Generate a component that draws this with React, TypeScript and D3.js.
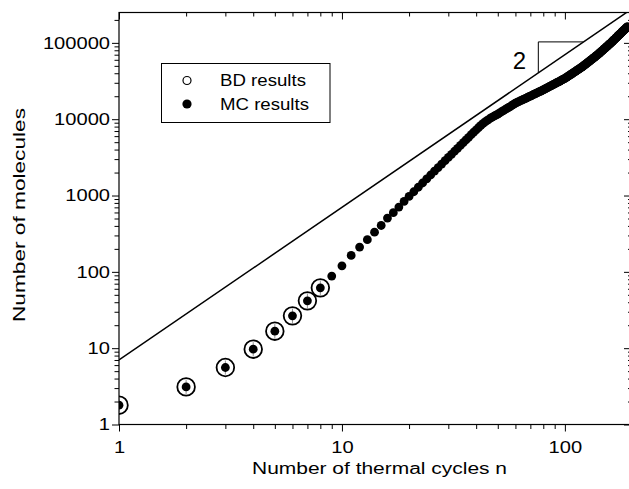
import React, { useEffect, useRef } from 'react';
import * as d3 from 'd3';

// MC results, one value per thermal cycle n = 1, 2, 3, ...
const mcValues = [
  1.79, 3.11, 5.58, 9.7, 16.7, 26.5, 41.7, 61.7, 88, 120,
  164, 211, 264, 331, 405, 506, 596, 705, 837, 973,
  1121, 1283, 1459, 1651, 1858, 2082, 2323, 2582, 2858, 3153,
  3468, 3802, 4158, 4533, 4931, 5351, 5793, 6259, 6749, 7262,
  7780, 8300, 8810, 9290, 9730, 10140, 10540, 10930, 11300, 11670,
  12090, 12520, 12960, 13400, 13850, 14310, 14770, 15240, 15720, 16200,
  16580, 16960, 17350, 17730, 18120, 18510, 18910, 19300, 19700, 20100,
  20510, 20910, 21320, 21730, 22140, 22550, 22970, 23390, 23810, 24230,
  24700, 25180, 25650, 26130, 26620, 27100, 27590, 28090, 28580, 29080,
  29590, 30090, 30600, 31110, 31630, 32140, 32660, 33190, 33710, 34240,
  34910, 35590, 36270, 36960, 37660, 38360, 39070, 39780, 40510, 41230,
  41970, 42710, 43460, 44210, 44970, 45730, 46500, 47280, 48070, 48860,
  49800, 50750, 51720, 52690, 53670, 54660, 55670, 56680, 57700, 58740,
  59780, 60830, 61900, 62980, 64060, 65160, 66270, 67380, 68510, 69650,
  70950, 72270, 73600, 74940, 76300, 77680, 79070, 80480, 81900, 83340,
  84790, 86260, 87740, 89240, 90750, 92280, 93830, 95390, 96970, 98560,
  100330, 102110, 103920, 105750, 107590, 109460, 111350, 113260, 115200, 117150,
  119120, 121120, 123140, 125180, 127240, 129320, 131430, 133550, 135710, 137870,
  140070, 142290, 144530, 146790, 149070, 151380, 153710, 156070, 158450, 160850,
  163270
];
const mcCycles = d3.range(1, mcValues.length + 1);

// BD results with error bars
const bdCycles = [1, 2, 3, 4, 5, 6, 7, 8];
const bdValues = [1.79, 3.11, 5.58, 9.7, 16.7, 26.5, 41.7, 61.7];
const bdLow = [1.45, 2.5, 4.5, 7.8, 13.3, 21, 33, 49];
const bdHigh = [2.2, 3.85, 6.9, 12, 20.8, 33, 52, 77];

// slope-2 reference line and its slope triangle
const fitCycles = [1, 200];
const fitValues = [7, 280000];
const triCycles = [76, 76, 121];
const triValues = [40400, 103000, 103000];

const xMajor = [1, 10, 100];
const yMajor = [1, 10, 100, 1000, 10000, 100000];

const FONT = "'Liberation Sans', Arial, Helvetica, sans-serif";

export default function App() {
  const ref = useRef<SVGSVGElement>(null);

  useEffect(() => {
    const svg = d3.select(ref.current);
    svg.selectAll('*').remove();

    const x = d3.scaleLog().domain([1, 200]).range([119, 632]);
    const y = d3.scaleLog().domain([1, 250000]).range([424.5, 12.5]);
    const [x0, x1] = x.range();
    const [y0, y1] = y.range();

    svg.append('defs').append('clipPath').attr('id', 'plotArea')
      .append('rect')
      .attr('x', x0).attr('y', y1)
      .attr('width', x1 - x0).attr('height', y0 - y1);

    const plot = svg.append('g').attr('clip-path', 'url(#plotArea)');

    // reference line
    const line = d3.line<number>()
      .x((d, i) => x(fitCycles[i]))
      .y(d => y(d));
    plot.append('path')
      .attr('d', line(fitValues))
      .attr('fill', 'none')
      .attr('stroke', '#000')
      .attr('stroke-width', 1.5);

    // slope triangle
    const tri = d3.line<number>()
      .x((d, i) => x(triCycles[i]))
      .y(d => y(d));
    plot.append('path')
      .attr('d', tri(triValues))
      .attr('fill', 'none')
      .attr('stroke', '#000')
      .attr('stroke-width', 1);

    svg.append('text')
      .attr('x', x(triCycles[0]) - 19)
      .attr('y', 69)
      .attr('text-anchor', 'middle')
      .attr('font-family', FONT)
      .attr('font-size', 24)
      .text('2');

    // BD circles + error bars
    plot.selectAll('line.err')
      .data(bdCycles)
      .enter()
      .append('line')
      .attr('class', 'err')
      .attr('x1', d => x(d)).attr('x2', d => x(d))
      .attr('y1', (d, i) => y(bdLow[i]))
      .attr('y2', (d, i) => y(bdHigh[i]))
      .attr('stroke', '#777')
      .attr('stroke-width', 0.8);

    plot.selectAll('circle.bd')
      .data(bdCycles)
      .enter()
      .append('circle')
      .attr('class', 'bd')
      .attr('cx', d => x(d))
      .attr('cy', (d, i) => y(bdValues[i]))
      .attr('r', 8.8)
      .attr('fill', 'none')
      .attr('stroke', '#000')
      .attr('stroke-width', 1.8);

    // MC dots
    plot.selectAll('circle.mc')
      .data(mcCycles)
      .enter()
      .append('circle')
      .attr('class', 'mc')
      .attr('cx', d => x(d))
      .attr('cy', (d, i) => y(mcValues[i]))
      .attr('r', 4.4)
      .attr('fill', '#000');

    // axes
    const yMinor = yMajor.flatMap(v => d3.range(2, 10).map(k => k * v)).filter(v => v < 250000);
    const xMinor = xMajor.flatMap(v => d3.range(2, 10).map(k => k * v)).filter(v => v < 200);
    const sx = 1.22;

    const styleAxis = (g: any) => {
      g.select('.domain').remove();
      g.attr('font-family', FONT).attr('font-size', 16.5).attr('color', '#000');
    };

    svg.append('g')
      .attr('transform', `translate(${x0},0)`)
      .call(d3.axisLeft(y).tickValues(yMajor).tickSize(7).tickFormat(d => String(d)))
      .call(styleAxis)
      .call(g => g.selectAll('text').attr('x', -9 / sx).attr('transform', `scale(${sx},1)`));
    svg.append('g')
      .attr('transform', `translate(${x0},0)`)
      .call(d3.axisLeft(y).tickValues(yMinor).tickSize(4.5).tickFormat(() => ''))
      .call(styleAxis);

    svg.append('g')
      .attr('transform', `translate(0,${y0})`)
      .call(d3.axisBottom(x).tickValues(xMajor).tickSize(7).tickPadding(10).tickFormat(d => String(d)))
      .call(styleAxis)
      .call(g => g.selectAll('text').attr('transform', `scale(${sx},1)`));
    svg.append('g')
      .attr('transform', `translate(0,${y0})`)
      .call(d3.axisBottom(x).tickValues(xMinor).tickSize(4.5).tickFormat(() => ''))
      .call(styleAxis);

    // mirrored inward ticks on top and right
    svg.append('g')
      .attr('transform', `translate(0,${y1})`)
      .call(d3.axisBottom(x).tickValues(xMajor).tickSize(7).tickFormat(() => ''))
      .call(styleAxis);
    svg.append('g')
      .attr('transform', `translate(0,${y1})`)
      .call(d3.axisBottom(x).tickValues(xMinor).tickSize(4).tickFormat(() => ''))
      .call(styleAxis);
    svg.append('g')
      .attr('transform', `translate(${x1},0)`)
      .call(d3.axisLeft(y).tickValues(yMajor).tickSize(8).tickFormat(() => ''))
      .call(styleAxis);
    svg.append('g')
      .attr('transform', `translate(${x1},0)`)
      .call(d3.axisLeft(y).tickValues(yMinor).tickSize(4).tickFormat(() => ''))
      .call(styleAxis);

    svg.append('rect')
      .attr('x', x0).attr('y', y1)
      .attr('width', x1 - x0).attr('height', y0 - y1)
      .attr('fill', 'none')
      .attr('stroke', '#000')
      .attr('stroke-width', 1.2);

    // legend
    const legend = svg.append('g');
    legend.append('rect')
      .attr('x', 161.5).attr('y', 63.5)
      .attr('width', 168.5).attr('height', 59)
      .attr('fill', '#fff')
      .attr('stroke', '#000')
      .attr('stroke-width', 1);
    legend.append('circle')
      .attr('cx', 187).attr('cy', 80.5).attr('r', 4)
      .attr('fill', '#fff').attr('stroke', '#000').attr('stroke-width', 1.2);
    legend.append('circle')
      .attr('cx', 187).attr('cy', 104).attr('r', 4.6)
      .attr('fill', '#000');
    legend.append('text')
      .attr('x', 220).attr('y', 86)
      .attr('font-family', FONT).attr('font-size', 16.5)
      .attr('textLength', 86).attr('lengthAdjust', 'spacingAndGlyphs')
      .text('BD results');
    legend.append('text')
      .attr('x', 220).attr('y', 110)
      .attr('font-family', FONT).attr('font-size', 16.5)
      .attr('textLength', 89).attr('lengthAdjust', 'spacingAndGlyphs')
      .text('MC results');

    // axis titles
    svg.append('text')
      .attr('x', 252).attr('y', 474)
      .attr('font-family', FONT).attr('font-size', 16)
      .attr('textLength', 255).attr('lengthAdjust', 'spacingAndGlyphs')
      .text('Number of thermal cycles n');
    svg.append('text')
      .attr('transform', 'translate(25,322) rotate(-90)')
      .attr('font-family', FONT).attr('font-size', 16)
      .attr('textLength', 214).attr('lengthAdjust', 'spacingAndGlyphs')
      .text('Number of molecules');
  }, []);

  return (
    <svg
      ref={ref}
      width={629}
      height={489}
      style={{ position: 'absolute', left: 0, top: 0, background: '#fff', display: 'block' }}
    />
  );
}
